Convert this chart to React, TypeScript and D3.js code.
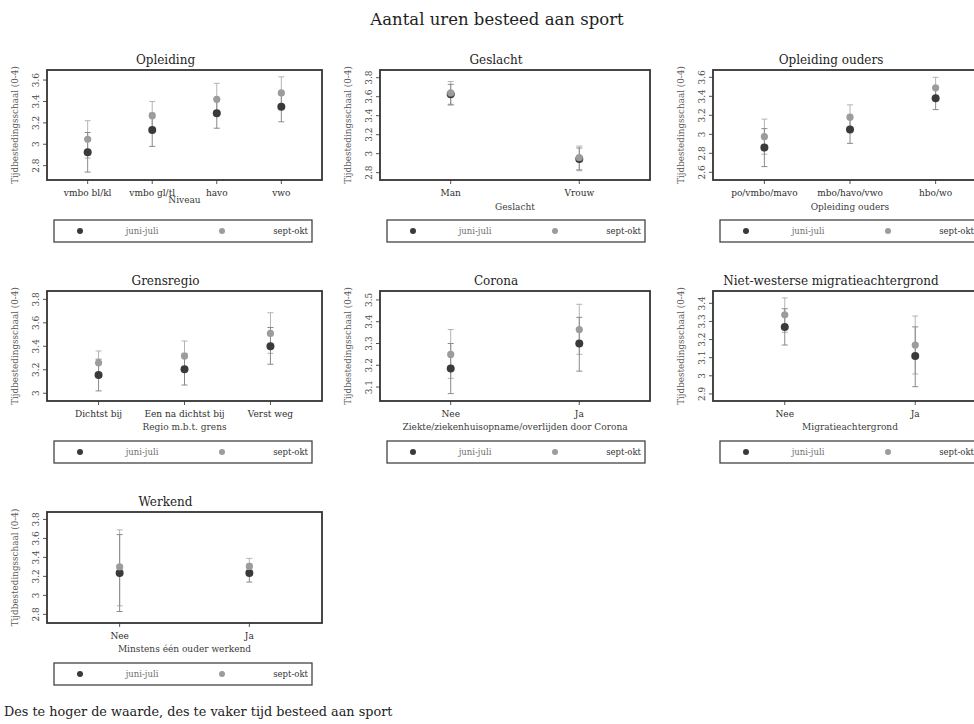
import React from "react";
import * as d3 from "d3";

// ---------- DATA ----------
const mainTitle = "Aantal uren besteed aan sport";
const footnote = "Des te hoger de waarde, des te vaker tijd besteed aan sport";
const yAxisTitle = "Tijdbestedingsschaal (0-4)";
const seriesNames = ["juni-juli", "sept-okt"];

const opleidingCats = ["vmbo bl/kl", "vmbo gl/tl", "havo", "vwo"];
const opleidingJuni = [2.925, 3.134, 3.29, 3.35];
const opleidingJuniLo = [2.74, 2.98, 3.15, 3.21];
const opleidingJuniHi = [3.11, 3.29, 3.43, 3.49];
const opleidingSept = [3.047, 3.267, 3.42, 3.48];
const opleidingSeptLo = [2.87, 3.13, 3.27, 3.34];
const opleidingSeptHi = [3.22, 3.4, 3.57, 3.63];
const opleidingTicks = [2.8, 3, 3.2, 3.4, 3.6];

const geslachtCats = ["Man", "Vrouw"];
const geslachtJuni = [3.625, 2.944];
const geslachtJuniLo = [3.52, 2.83];
const geslachtJuniHi = [3.73, 3.06];
const geslachtSept = [3.64, 2.96];
const geslachtSeptLo = [3.51, 2.82];
const geslachtSeptHi = [3.76, 3.08];
const geslachtTicks = [2.8, 3, 3.2, 3.4, 3.6, 3.8];

const oudersCats = ["po/vmbo/mavo", "mbo/havo/vwo", "hbo/wo"];
const oudersJuni = [2.86, 3.05, 3.38];
const oudersJuniLo = [2.66, 2.905, 3.26];
const oudersJuniHi = [3.06, 3.2, 3.49];
const oudersSept = [2.975, 3.18, 3.49];
const oudersSeptLo = [2.79, 3.05, 3.38];
const oudersSeptHi = [3.16, 3.31, 3.6];
const oudersTicks = [2.6, 2.8, 3, 3.2, 3.4, 3.6];

const grensCats = ["Dichtst bij", "Een na dichtst bij", "Verst weg"];
const grensJuni = [3.156, 3.204, 3.4];
const grensJuniLo = [3.02, 3.07, 3.247];
const grensJuniHi = [3.29, 3.34, 3.56];
const grensSept = [3.26, 3.317, 3.51];
const grensSeptLo = [3.16, 3.19, 3.34];
const grensSeptHi = [3.36, 3.445, 3.686];
const grensTicks = [3, 3.2, 3.4, 3.6, 3.8];

const coronaCats = ["Nee", "Ja"];
const coronaJuni = [3.185, 3.3];
const coronaJuniLo = [3.07, 3.173];
const coronaJuniHi = [3.3, 3.42];
const coronaSept = [3.25, 3.364];
const coronaSeptLo = [3.14, 3.25];
const coronaSeptHi = [3.364, 3.48];
const coronaTicks = [3.1, 3.2, 3.3, 3.4, 3.5];

const migratieCats = ["Nee", "Ja"];
const migratieJuni = [3.27, 3.11];
const migratieJuniLo = [3.17, 2.94];
const migratieJuniHi = [3.37, 3.27];
const migratieSept = [3.337, 3.17];
const migratieSeptLo = [3.24, 3.01];
const migratieSeptHi = [3.43, 3.33];
const migratieTicks = [2.9, 3, 3.1, 3.2, 3.3, 3.4];

const werkendCats = ["Nee", "Ja"];
const werkendJuni = [3.236, 3.236];
const werkendJuniLo = [2.83, 3.14];
const werkendJuniHi = [3.64, 3.33];
const werkendSept = [3.3, 3.305];
const werkendSeptLo = [2.89, 3.21];
const werkendSeptHi = [3.69, 3.39];
const werkendTicks = [2.8, 3, 3.2, 3.4, 3.6, 3.8];

// ---------- LAYOUT ----------
const FONT = "'DejaVu Serif', serif";
const colBox = [
  [47, 322],
  [380, 650],
  [713, 987],
];
const rowBox = [
  [70, 180],
  [291, 401],
  [512, 623],
];
const DARK = "#3a3a3a";
const LIGHT = "#9c9c9c";

type PanelDef = {
  title: string;
  xTitle: string;
  col: number;
  row: number;
  cats: string[];
  juni: number[];
  juniLo: number[];
  juniHi: number[];
  sept: number[];
  septLo: number[];
  septHi: number[];
  ticks: number[];
  domain: [number, number];
  pad: number;
  xTitleDy: number;
};

const panels: PanelDef[] = [
  { title: "Opleiding", xTitle: "Niveau", col: 0, row: 0, cats: opleidingCats, juni: opleidingJuni, juniLo: opleidingJuniLo, juniHi: opleidingJuniHi, sept: opleidingSept, septLo: opleidingSeptLo, septHi: opleidingSeptHi, ticks: opleidingTicks, domain: [2.666, 3.694], pad: 0.63, xTitleDy: 23 },
  { title: "Geslacht", xTitle: "Geslacht", col: 1, row: 0, cats: geslachtCats, juni: geslachtJuni, juniLo: geslachtJuniLo, juniHi: geslachtJuniHi, sept: geslachtSept, septLo: geslachtSeptLo, septHi: geslachtSeptHi, ticks: geslachtTicks, domain: [2.723, 3.881], pad: 0.55, xTitleDy: 30 },
  { title: "Opleiding ouders", xTitle: "Opleiding ouders", col: 2, row: 0, cats: oudersCats, juni: oudersJuni, juniLo: oudersJuniLo, juniHi: oudersJuniHi, sept: oudersSept, septLo: oudersSeptLo, septHi: oudersSeptHi, ticks: oudersTicks, domain: [2.519, 3.677], pad: 0.6, xTitleDy: 30 },
  { title: "Grensregio", xTitle: "Regio m.b.t. grens", col: 0, row: 1, cats: grensCats, juni: grensJuni, juniLo: grensJuniLo, juniHi: grensJuniHi, sept: grensSept, septLo: grensSeptLo, septHi: grensSeptHi, ticks: grensTicks, domain: [2.934, 3.871], pad: 0.6, xTitleDy: 29 },
  { title: "Corona", xTitle: "Ziekte/ziekenhuisopname/overlijden door Corona", col: 1, row: 1, cats: coronaCats, juni: coronaJuni, juniLo: coronaJuniLo, juniHi: coronaJuniHi, sept: coronaSept, septLo: coronaSeptLo, septHi: coronaSeptHi, ticks: coronaTicks, domain: [3.036, 3.541], pad: 0.55, xTitleDy: 29 },
  { title: "Niet-westerse migratieachtergrond", xTitle: "Migratieachtergrond", col: 2, row: 1, cats: migratieCats, juni: migratieJuni, juniLo: migratieJuniLo, juniHi: migratieJuniHi, sept: migratieSept, septLo: migratieSeptLo, septHi: migratieSeptHi, ticks: migratieTicks, domain: [2.861, 3.468], pad: 0.55, xTitleDy: 29 },
  { title: "Werkend", xTitle: "Minstens één ouder werkend", col: 0, row: 2, cats: werkendCats, juni: werkendJuni, juniLo: werkendJuniLo, juniHi: werkendJuniHi, sept: werkendSept, septLo: werkendSeptLo, septHi: werkendSeptHi, ticks: werkendTicks, domain: [2.709, 3.878], pad: 0.56, xTitleDy: 29 },
];

const fmt = (v: number) => d3.format("~g")(v);

function Panel({ p }: { p: PanelDef }) {
  const [x0, x1] = colBox[p.col];
  const [y0, y1] = rowBox[p.row];
  const x = d3.scalePoint<string>().domain(p.cats).range([x0, x1]).padding(p.pad);
  const y = d3.scaleLinear().domain(p.domain).range([y1, y0]);
  const legX = x0 + 7;
  const legY = y1 + 40;
  const legW = 258;
  const legH = 22;
  const titleX = (x0 + x1) / 2 - 19;
  const cap = 3;

  const ci = (vals: number[], lo: number[], hi: number[], color: string, key: string) =>
    p.cats.map((c, i) => {
      const cx = x(c)!;
      return (
        <g key={key + i} stroke={color} strokeWidth={1}>
          <line x1={cx} x2={cx} y1={y(lo[i])} y2={y(hi[i])} />
          <line x1={cx - cap} x2={cx + cap} y1={y(lo[i])} y2={y(lo[i])} />
          <line x1={cx - cap} x2={cx + cap} y1={y(hi[i])} y2={y(hi[i])} />
        </g>
      );
    });

  return (
    <g>
      <text x={titleX} y={y0 - 6} textAnchor="middle" fontSize={12} fontFamily={FONT} fill="#1e1e1e">
        {p.title}
      </text>
      {/* y ticks */}
      {p.ticks.map((t) => (
        <g key={"t" + t}>
          <line x1={x0 - 4} x2={x0} y1={y(t)} y2={y(t)} stroke="#555" strokeWidth={1} />
          <text
            transform={`translate(${x0 - 8},${y(t)}) rotate(-90)`}
            textAnchor="middle"
            fontSize={9}
            fontFamily={FONT}
            fill="#4a4a4a"
          >
            {fmt(t)}
          </text>
        </g>
      ))}
      <text
        transform={`translate(${x0 - 29},${(y0 + y1) / 2}) rotate(-90)`}
        textAnchor="middle"
        fontSize={8.8}
        fontFamily={FONT}
        fill="#5a5a5a"
      >
        {yAxisTitle}
      </text>
      {/* x ticks */}
      {p.cats.map((c) => (
        <g key={"x" + c}>
          <line x1={x(c)!} x2={x(c)!} y1={y1} y2={y1 + 4} stroke="#555" strokeWidth={1} />
          <text x={x(c)!} y={y1 + 16} textAnchor="middle" fontSize={9} fontFamily={FONT} fill="#2e2e2e">
            {c}
          </text>
        </g>
      ))}
      <text x={(x0 + x1) / 2} y={y1 + p.xTitleDy} textAnchor="middle" fontSize={9} fontFamily={FONT} fill="#3c3c3c">
        {p.xTitle}
      </text>
      {/* CIs */}
      {ci(p.sept, p.septLo, p.septHi, "#b4b4b4", "cs")}
      {ci(p.juni, p.juniLo, p.juniHi, "#8a8a8a", "cj")}
      {p.cats.map((c, i) => (
        <circle key={"pj" + c} cx={x(c)!} cy={y(p.juni[i])} r={4} fill={DARK} />
      ))}
      {p.cats.map((c, i) => (
        <circle key={"ps" + c} cx={x(c)!} cy={y(p.sept[i])} r={3.6} fill={LIGHT} />
      ))}
      {/* box */}
      <rect x={x0} y={y0} width={x1 - x0} height={y1 - y0} fill="none" stroke="#333" strokeWidth={1.8} />
      {/* legend */}
      <rect x={legX} y={legY} width={legW} height={legH} fill="none" stroke="#444" strokeWidth={1.3} />
      <circle cx={legX + 26} cy={legY + legH / 2} r={3} fill={DARK} />
      <text x={legX + 88} y={legY + legH / 2 + 3} textAnchor="middle" fontSize={8.5} fontFamily={FONT} fill="#707070">
        {seriesNames[0]}
      </text>
      <circle cx={legX + 168} cy={legY + legH / 2} r={3} fill={LIGHT} />
      <text x={legX + 254} y={legY + legH / 2 + 3} textAnchor="end" fontSize={8.5} fontFamily={FONT} fill="#333">
        {seriesNames[1]}
      </text>
    </g>
  );
}

export default function App() {
  return (
    <svg
      width={974}
      height={724}
      style={{ position: "absolute", left: 0, top: 0, background: "#fff" }}
    >
      <rect x={0} y={0} width={974} height={724} fill="#fff" />
      <text x={497} y={25} textAnchor="middle" fontSize={16.5} fontFamily={FONT} fill="#1e1e1e">
        {mainTitle}
      </text>
      {panels.map((p) => (
        <Panel key={p.title} p={p} />
      ))}
      <text x={4} y={716} fontSize={12.8} fontFamily={FONT} fill="#222">
        {footnote}
      </text>
    </svg>
  );
}
